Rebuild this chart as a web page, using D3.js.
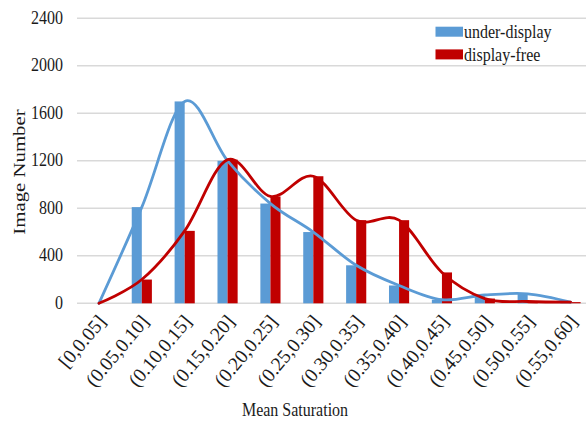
<!DOCTYPE html>
<html>
<head>
<meta charset="utf-8">
<script src="https://cdn.jsdelivr.net/npm/d3@7"></script>
<style>
  html, body { margin: 0; padding: 0; background: #fff; }
  svg { display: block; }
  text { font-family: "Liberation Serif", "Times New Roman", serif; fill: #1a1a1a; }
</style>
</head>
<body>
<svg id="chart" width="586" height="422"></svg>
<script>
// Histogram of mean saturation, two image sets
const categories = ["[0,0.05]", "(0.05,0.10]", "(0.10,0.15]", "(0.15,0.20]", "(0.20,0.25]", "(0.25,0.30]",
                    "(0.30,0.35]", "(0.35,0.40]", "(0.40,0.45]", "(0.45,0.50]", "(0.50,0.55]", "(0.55,0.60]"];
const underDisplay = [0, 810, 1700, 1200, 840, 600, 320, 150, 30, 70, 80, 10];
const displayFree  = [0, 200, 610, 1210, 900, 1070, 700, 700, 260, 40, 15, 10];
const seriesNames = ["under-display", "display-free"];
const seriesColors = ["#5b9bd5", "#c00000"];
const yTicks = [0, 400, 800, 1200, 1600, 2000, 2400];

const series = [underDisplay, displayFree];
const svg = d3.select("#chart");

const x0 = d3.scaleBand().domain(categories).range([77.5, 592]).paddingInner(0.53).paddingOuter(0.265);
const x1 = d3.scaleBand().domain(seriesNames).range([0, x0.bandwidth()]);
const y = d3.scaleLinear().domain([0, 2400]).range([303.3, 18.3]);
const cx = c => x0(c) + x0.bandwidth() / 2;

// horizontal gridlines
svg.append("g").selectAll("line").data(yTicks).join("line")
  .attr("x1", 77).attr("x2", 586)
  .attr("y1", d => y(d)).attr("y2", d => y(d))
  .attr("stroke", "#d9d9d9").attr("stroke-width", 1.5);

// y tick labels
svg.append("g").selectAll("text").data(yTicks).join("text")
  .attr("text-anchor", "end")
  .attr("transform", d => `translate(63,${y(d) + 5.5}) scale(1,1.15)`)
  .style("font-size", "16px")
  .text(d => d);

// bars
seriesNames.forEach((name, si) => {
  svg.append("g").selectAll("rect").data(categories).join("rect")
    .attr("x", c => x0(c) + x1(name))
    .attr("width", x1.bandwidth())
    .attr("y", (c, i) => y(series[si][i]))
    .attr("height", (c, i) => y(0) - y(series[si][i]))
    .attr("fill", seriesColors[si]);
});

// smoothed trend lines through the bar values
const line = d3.line()
  .x((v, i) => cx(categories[i]))
  .y(v => y(v))
  .curve(d3.curveCatmullRom.alpha(0));
series.forEach((vals, si) => {
  svg.append("path").datum(vals)
    .attr("d", line)
    .attr("fill", "none")
    .attr("stroke", seriesColors[si])
    .attr("stroke-width", 2.8)
    .attr("stroke-linecap", "round");
});

// x tick labels, rotated
svg.append("g").selectAll("text").data(categories).join("text")
  .attr("text-anchor", "end")
  .attr("transform", c => `translate(${cx(c) + 8},${322}) rotate(-50)`)
  .style("font-size", "19.5px")
  .text(c => c);

// axis titles
svg.append("text")
  .attr("text-anchor", "middle")
  .attr("transform", "translate(295,416) scale(1,1.15)")
  .style("font-size", "16px")
  .text("Mean Saturation");

svg.append("text")
  .attr("text-anchor", "middle")
  .attr("transform", "translate(25,172) scale(1,1.19) rotate(-90)")
  .style("font-size", "17.5px")
  .text("Image Number");

// legend
const legend = svg.append("g");
seriesNames.forEach((name, i) => {
  const ly = 26.7 + i * 22.7;
  legend.append("rect")
    .attr("x", 435.5).attr("y", ly).attr("width", 27.5).attr("height", 10)
    .attr("fill", seriesColors[i]);
  legend.append("text")
    .attr("transform", `translate(464,${ly + 11.5}) scale(1,1.15)`)
    .style("font-size", "16px")
    .text(name);
});
</script>
</body>
</html>
